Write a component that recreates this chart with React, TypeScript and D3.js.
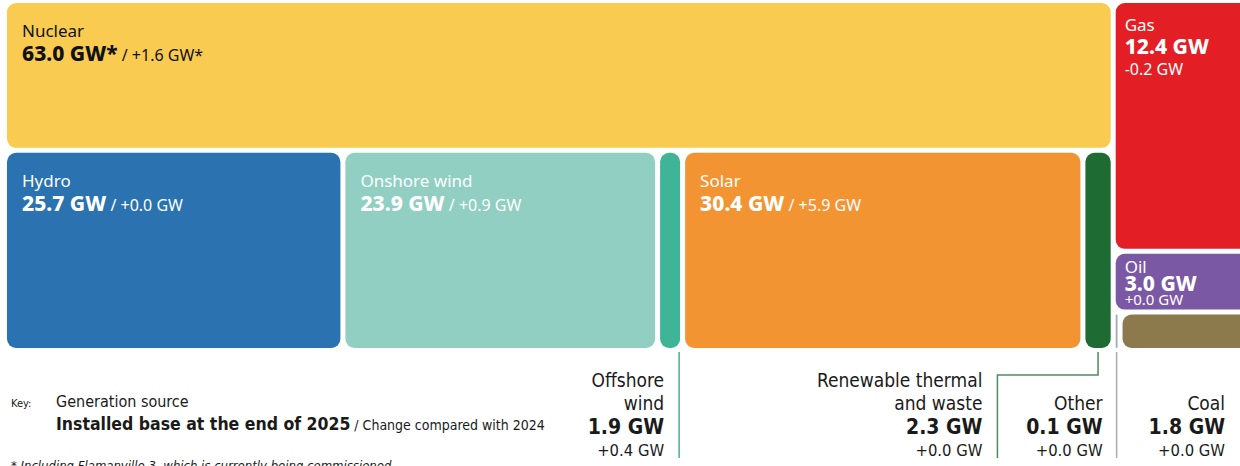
import React from "react";
import * as d3 from "d3";

// installed capacity, end of 2025 (GW) and change vs 2024
const sources = ["Nuclear", "Hydro", "Onshore wind", "Offshore wind", "Solar", "Renewable thermal and waste", "Gas", "Oil", "Other", "Coal"];
const capacity = [63.0, 25.7, 23.9, 1.9, 30.4, 2.3, 12.4, 3.0, 0.1, 1.8];
const change = [1.6, 0.0, 0.9, 0.4, 5.9, 0.0, -0.2, 0.0, 0.0, 0.0];
const footnoted = ["Nuclear"];
const colors = ["#f9cb51", "#2a72b0", "#90cfc2", "#40b497", "#f39433", "#1e6b34", "#e31e24", "#7b58a4", "#a9aab8", "#8c7a4d"];
const textColors = ["#111", "#fff", "#fff", "#fff", "#fff", "#fff", "#fff", "#fff", "#fff", "#fff"];
// how the tiles are grouped (left block: nuclear over the row, right block: fossil column)
const lowCarbonRow = ["Hydro", "Onshore wind", "Offshore wind", "Solar", "Renewable thermal and waste"];
const fossilColumn = ["Gas", "Oil"];
const smallFossil = ["Other", "Coal"];
const outsideLabels = [["Offshore", "wind"], ["Renewable thermal", "and waste"], ["Other"], ["Coal"]];
const outsideNames = ["Offshore wind", "Renewable thermal and waste", "Other", "Coal"];

const W = 1240;
const H = 466;
const inner = "'Noto Sans', 'Open Sans', sans-serif";
const narrow = "'Liberation Sans Narrow', 'DejaVu Sans Condensed', Roboto, sans-serif";

const leaf = (n: string) => ({ name: n, value: capacity[sources.indexOf(n)] });
const fmt = (v: number) => v.toFixed(1) + " GW";
const fmtChange = (v: number) => (v < 0 ? "-" : "+") + Math.abs(v).toFixed(1) + " GW";

export default function App() {
  const data = {
    name: "root",
    children: [
      { name: "left", children: [leaf("Nuclear"), { name: "row", children: lowCarbonRow.map(leaf) }] },
      { name: "right", children: [...fossilColumn.map(leaf), { name: "small", children: smallFossil.map(leaf) }] },
    ],
  };
  const root = d3.hierarchy<any>(data).sum((d: any) => (d.children ? 0 : d.value));
  d3.treemap<any>().tile(d3.treemapSliceDice).size([1234, 345]).paddingInner(5)(root);
  const leaves = root.leaves() as any[];
  const ox = 7;
  const oy = 3;
  const byName = (n: string) => leaves.find((l) => l.data.name === n);

  const tiles = leaves.map((l, k) => {
    const name = l.data.name;
    const i = sources.indexOf(name);
    const x = l.x0 + ox;
    const y = l.y0 + oy;
    // tiles on the right edge run off the page, as in the original
    const bleed = l.x1 + ox > W - 6 ? 12 : 0;
    const w = Math.max(l.x1 - l.x0, 1.5) + bleed;
    const h = l.y1 - l.y0;
    const star = footnoted.includes(name) ? "*" : "";
    let label: React.ReactNode = null;
    const fill = textColors[i];
    if (["Nuclear", "Hydro", "Onshore wind", "Solar"].includes(name)) {
      label = (
        <g fill={fill} fontFamily={inner}>
          <text x={x + 15} y={y + 34} fontSize={17}>{name}</text>
          <text x={x + 15} y={y + 58}>
            <tspan fontSize={21} fontWeight={800}>{fmt(capacity[i]) + star}</tspan>
            <tspan fontSize={16}>{" / " + fmtChange(change[i]) + star}</tspan>
          </text>
        </g>
      );
    } else if (name === "Gas") {
      label = (
        <g fill={fill} fontFamily={inner}>
          <text x={x + 9} y={y + 28} fontSize={17}>{name}</text>
          <text x={x + 9} y={y + 51} fontSize={21} fontWeight={800}>{fmt(capacity[i])}</text>
          <text x={x + 9} y={y + 72} fontSize={16}>{fmtChange(change[i])}</text>
        </g>
      );
    } else if (name === "Oil") {
      label = (
        <g fill={fill} fontFamily={inner}>
          <text x={x + 9} y={y + 19} fontSize={17}>{name}</text>
          <text x={x + 9} y={y + 37} fontSize={21} fontWeight={800}>{fmt(capacity[i])}</text>
          <text x={x + 9} y={y + 51} fontSize={15}>{fmtChange(change[i])}</text>
        </g>
      );
    }
    return (
      <g key={k}>
        <rect x={x} y={y} width={w} height={h} rx={Math.min(9, w / 2)} fill={colors[i]} />
        {label}
      </g>
    );
  });

  // labels below the tiles
  const off = byName("Offshore wind");
  const rtw = byName("Renewable thermal and waste");
  const oth = byName("Other");
  const offX = off.x1 + ox - 1;
  const rtX = (rtw.x0 + rtw.x1) / 2 + ox;
  const elbowX = rtw.x0 + ox - 88;
  const othX = (oth.x0 + oth.x1) / 2 + ox;
  const top = root.y1 + oy + 4;
  const anchors = [offX - 15, elbowX - 15, othX - 14, 1225];

  const below = outsideNames.map((n, k) => {
    const i = sources.indexOf(n);
    const lines = outsideLabels[k];
    const tx = anchors[k];
    return (
      <g key={n} fontFamily={narrow} fill="#1a1a1a" textAnchor="end">
        {lines.map((ln, j) => (
          <text key={j} x={tx} y={410 - (lines.length - 1 - j) * 23} fontSize={19}>{ln}</text>
        ))}
        <text x={tx} y={434} fontSize={21} fontWeight={700}>{fmt(capacity[i])}</text>
        <text x={tx} y={456} fontSize={16.5}>{fmtChange(change[i])}</text>
      </g>
    );
  });

  return (
    <svg width={W} height={H} style={{ position: "absolute", left: 0, top: 0 }}>
      <rect width={W} height={H} fill="#fff" />
      {tiles}
      <line x1={offX} x2={offX} y1={top} y2={458} stroke={colors[3]} strokeWidth={1.5} />
      <path d={`M${rtX},${top} V375 H${elbowX} V458`} fill="none" stroke="#4f8a5e" strokeWidth={1.5} />
      <line x1={othX} x2={othX} y1={top} y2={458} stroke={colors[8]} strokeWidth={1.5} />
      {below}
      <g fontFamily={narrow} fill="#1a1a1a">
        <text x={11} y={407} fontSize={11}>Key:</text>
        <text x={56} y={407} fontSize={16}>Generation source</text>
        <text x={56} y={430}>
          <tspan fontSize={17.5} fontWeight={700}>Installed base at the end of 2025</tspan>
          <tspan fontSize={14}>{" / Change compared with 2024"}</tspan>
        </text>
        <text x={11} y={470} fontSize={13} fontStyle="italic">* Including Flamanville 3, which is currently being commissioned</text>
      </g>
    </svg>
  );
}
